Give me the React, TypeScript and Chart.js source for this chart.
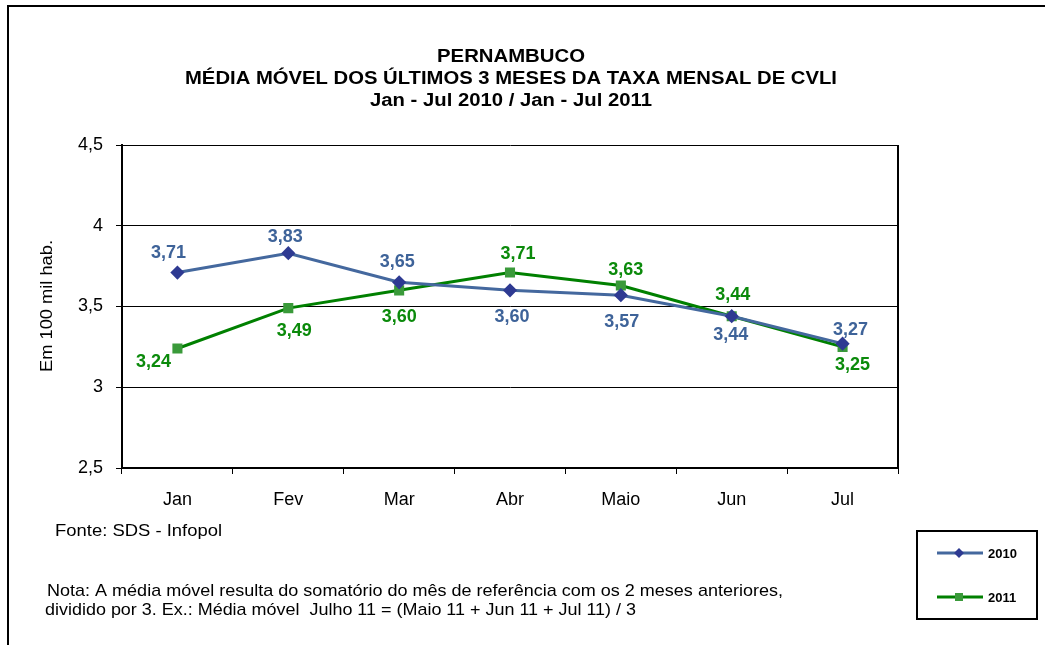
import React, { useEffect, useRef } from 'react';
import { Chart, registerables } from 'chart.js';
Chart.register(...registerables);

const months = ['Jan', 'Fev', 'Mar', 'Abr', 'Maio', 'Jun', 'Jul'];
const values2010 = [3.71, 3.83, 3.65, 3.6, 3.57, 3.44, 3.27];
const values2011 = [3.24, 3.49, 3.6, 3.71, 3.63, 3.44, 3.25];
const seriesNames = ['2010', '2011'];
const yMin = 2.5;
const yMax = 4.5;
const yStep = 0.5;
const titleLines = [
  'PERNAMBUCO',
  'MÉDIA MÓVEL DOS ÚLTIMOS 3 MESES DA TAXA MENSAL DE CVLI',
  'Jan - Jul 2010 / Jan - Jul 2011',
];
const yAxisTitle = 'Em 100 mil hab.';
const sourceText = 'Fonte: SDS - Infopol';
const noteLines = [
  'Nota: A média móvel resulta do somatório do mês de referência com os 2 meses anteriores,',
  'dividido por 3. Ex.: Média móvel  Julho 11 = (Maio 11 + Jun 11 + Jul 11) / 3',
];

// label placement (style only): [dx, dy] from each point
const labelOffsets2010 = [[-9, -20], [-3, -16], [-2, -20], [2, 27], [1, 27], [-1, 19], [8, -14]];
const labelOffsets2011 = [[-24, 14], [6, 23], [0, 27], [8, -19], [5, -15], [1, -21], [10, 18]];

const C2010_LINE = '#44689E';
const C2010_MARK = '#2E3A92';
const C2010_TEXT = '#3E6399';
const C2011_LINE = '#008000';
const C2011_MARK = '#3A9A3A';
const C2011_TEXT = '#0B8A0B';
const FONT = '"Liberation Sans", Arial, sans-serif';

const fmt = (v: number) => v.toFixed(2).replace('.', ',');

// draws text horizontally scaled to a target width
function fitText(ctx: CanvasRenderingContext2D, text: string, x: number, y: number, width: number, align: 'left' | 'center') {
  const w = ctx.measureText(text).width;
  const sx = width / w;
  ctx.save();
  ctx.translate(x, y);
  ctx.scale(sx, 1);
  ctx.textAlign = align;
  ctx.fillText(text, 0, 0);
  ctx.restore();
}

export default function App() {
  const ref = useRef<HTMLCanvasElement>(null);
  useEffect(() => {
    if (!ref.current) return;
    const decor = {
      id: 'decor',
      afterDatasetsDraw(chart: any) {
        const ctx = chart.ctx;
        ctx.save();
        ctx.font = `bold 18px ${FONT}`;
        ctx.textAlign = 'center';
        ctx.textBaseline = 'middle';
        const offs = [labelOffsets2010, labelOffsets2011];
        const cols = [C2010_TEXT, C2011_TEXT];
        chart.data.datasets.forEach((ds: any, di: number) => {
          const meta = chart.getDatasetMeta(di);
          ctx.fillStyle = cols[di];
          meta.data.forEach((pt: any, i: number) => {
            const [dx, dy] = offs[di][i];
            ctx.fillText(fmt(ds.data[i]), pt.x + dx, pt.y + dy, 36);
          });
        });
        ctx.restore();
      },
      afterDraw(chart: any) {
        const ctx = chart.ctx;
        const a = chart.chartArea;
        ctx.save();
        // outer frame
        ctx.strokeStyle = '#000';
        ctx.lineWidth = 2;
        ctx.beginPath();
        ctx.moveTo(8, 650);
        ctx.lineTo(8, 6);
        ctx.lineTo(1050, 6);
        ctx.stroke();
        // right border of plot area
        ctx.lineWidth = 2;
        ctx.beginPath();
        ctx.moveTo(a.right, a.top);
        ctx.lineTo(a.right, a.bottom);
        ctx.stroke();
        // title
        ctx.fillStyle = '#000';
        ctx.textBaseline = 'middle';
        ctx.font = `bold 18px ${FONT}`;
        const tw = [148, 652, 282];
        const ty = [57, 79, 101];
        titleLines.forEach((t, i) => fitText(ctx, t, 511, ty[i], tw[i], 'center'));
        // y title
        ctx.save();
        ctx.translate(47, 306);
        ctx.rotate(-Math.PI / 2);
        ctx.font = `17px ${FONT}`;
        fitText(ctx, yAxisTitle, 0, 0, 132, 'center');
        ctx.restore();
        // source and notes
        ctx.font = `17px ${FONT}`;
        fitText(ctx, sourceText, 55, 531, 167, 'left');
        fitText(ctx, noteLines[0], 47, 591, 736, 'left');
        fitText(ctx, noteLines[1], 45, 610, 591, 'left');
        // legend
        ctx.lineWidth = 2;
        ctx.strokeStyle = '#000';
        ctx.strokeRect(917, 531, 120, 88);
        const ly = [553, 597];
        const lc = [C2010_LINE, C2011_LINE];
        const mc = [C2010_MARK, C2011_MARK];
        seriesNames.forEach((n, i) => {
          ctx.strokeStyle = lc[i];
          ctx.lineWidth = 3;
          ctx.beginPath();
          ctx.moveTo(937, ly[i]);
          ctx.lineTo(983, ly[i]);
          ctx.stroke();
          ctx.fillStyle = mc[i];
          if (i === 0) {
            ctx.beginPath();
            ctx.moveTo(959, ly[i] - 5);
            ctx.lineTo(964, ly[i]);
            ctx.lineTo(959, ly[i] + 5);
            ctx.lineTo(954, ly[i]);
            ctx.closePath();
            ctx.fill();
          } else {
            ctx.fillRect(955, ly[i] - 4, 8, 8);
          }
          ctx.fillStyle = '#000';
          ctx.font = `bold 13px ${FONT}`;
          ctx.textAlign = 'left';
          ctx.fillText(n, 988, ly[i] + 1);
        });
        ctx.restore();
      },
    };

    const chart = new Chart(ref.current, {
      type: 'line',
      data: {
        labels: months,
        datasets: [
          {
            label: seriesNames[0],
            data: values2010,
            borderColor: C2010_LINE,
            backgroundColor: C2010_MARK,
            pointBackgroundColor: C2010_MARK,
            pointBorderColor: C2010_MARK,
            pointStyle: 'rectRot',
            pointRadius: 5,
            borderWidth: 3,
            tension: 0,
          },
          {
            label: seriesNames[1],
            data: values2011,
            borderColor: C2011_LINE,
            backgroundColor: C2011_MARK,
            pointBackgroundColor: C2011_MARK,
            pointBorderColor: C2011_MARK,
            pointStyle: 'rect',
            pointRadius: 5,
            borderWidth: 3,
            tension: 0,
          },
        ],
      },
      options: {
        responsive: false,
        animation: false,
        devicePixelRatio: 1,
        layout: { padding: { top: 145, right: 147, left: 0, bottom: 0 } },
        plugins: { legend: { display: false }, title: { display: false }, tooltip: { enabled: false } },
        scales: {
          x: {
            offset: true,
            grid: { offset: true, drawOnChartArea: false, drawTicks: true, tickLength: 6, color: '#000', lineWidth: 1 },
            border: { display: true, color: '#000', width: 2 },
            ticks: { color: '#000', font: { family: FONT, size: 18 }, padding: 15 },
            afterFit: (s: any) => { s.height = 177; },
          },
          y: {
            min: yMin,
            max: yMax,
            ticks: {
              stepSize: yStep,
              color: '#000',
              font: { family: FONT, size: 18 },
              padding: 13,
              callback: (v: any) => String(v).replace('.', ','),
            },
            grid: { color: '#000', lineWidth: 1, tickLength: 6 },
            border: { display: true, color: '#000', width: 2 },
            afterFit: (s: any) => { s.width = 122; },
          },
        },
      },
      plugins: [decor],
    } as any);
    return () => chart.destroy();
  }, []);
  return (
    <div style={{ position: 'absolute', left: 0, top: 0, width: 1045, height: 645, background: '#fff' }}>
      <canvas ref={ref} width={1045} height={645} style={{ display: 'block' }} />
    </div>
  );
}
